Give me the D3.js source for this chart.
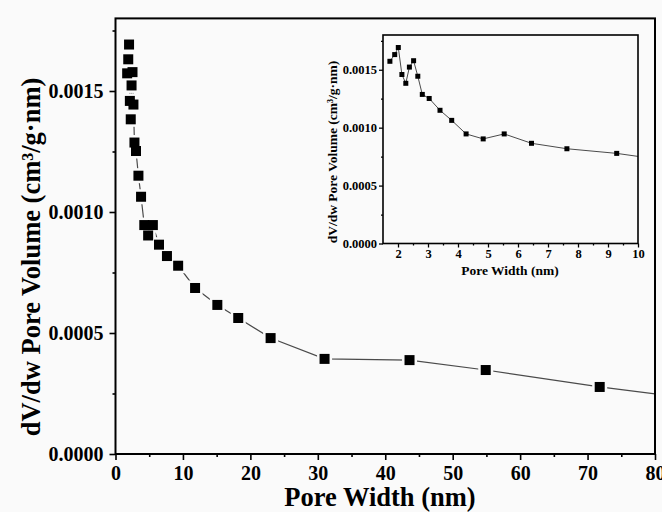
<!DOCTYPE html>
<html>
<head>
<meta charset="utf-8">
<script src="https://cdn.jsdelivr.net/npm/d3@7"></script>
<style>
  body { margin: 0; background: #fafafa; }
  text { font-family: "Liberation Serif", "Times New Roman", serif; font-weight: bold; fill: #000; }
</style>
</head>
<body>
<script>
var width = 662, height = 512;

// pore size distribution
var poreWidth = [1.73, 1.89, 2.01, 2.13, 2.26, 2.38, 2.52, 2.66, 2.81, 3.04, 3.40, 3.79,
                 4.27, 4.84, 5.54, 6.45, 7.63, 9.29, 11.8, 15.1, 18.2, 23.0, 31.0, 43.6,
                 54.9, 71.8, 90];
var poreVolume = [0.001573, 0.001631, 0.001692, 0.001459, 0.001383, 0.001523, 0.001578,
                  0.001444, 0.001287, 0.001252, 0.00115, 0.001063, 0.000946, 0.000903,
                  0.000946, 0.000865, 0.000818, 0.000778, 0.000686, 0.000616, 0.000562,
                  0.000479, 0.000393, 0.000388, 0.000347, 0.000277, 0.000214];

var mainXTicks = [0, 10, 20, 30, 40, 50, 60, 70, 80];
var mainXMinor = [5, 15, 25, 35, 45, 55, 65, 75];
var yTicks = [0, 0.0005, 0.0010, 0.0015];
var yMinor = [0.00025, 0.00075, 0.00125, 0.00175];
var insetXTicks = [2, 3, 4, 5, 6, 7, 8, 9, 10];
var insetXMinor = [2.5, 3.5, 4.5, 5.5, 6.5, 7.5, 8.5, 9.5];

var data = poreWidth.map(function(w, i) { return {x: w, y: poreVolume[i]}; });

var svg = d3.select("body").append("svg")
    .attr("width", width)
    .attr("height", height);

svg.append("rect").attr("width", width).attr("height", height).attr("fill", "#fafafa");

// draw one panel (main chart or inset)
function panel(opt) {
    var x = d3.scaleLinear().domain(opt.xDomain).range([opt.left, opt.right]);
    var y = d3.scaleLinear().domain([0, 0.0018]).range([opt.bottom, opt.top]);
    var g = svg.append("g");
    var clipId = "clip-" + opt.name;

    g.append("clipPath").attr("id", clipId)
      .append("rect")
        .attr("x", opt.left).attr("y", opt.top)
        .attr("width", opt.right - opt.left).attr("height", opt.bottom - opt.top);

    var plot = g.append("g").attr("clip-path", "url(#" + clipId + ")");

    var line = d3.line().x(function(d) { return x(d.x); }).y(function(d) { return y(d.y); });
    plot.append("path")
        .datum(data)
        .attr("fill", "none")
        .attr("stroke", "#4a4a4a")
        .attr("stroke-width", opt.lineWidth)
        .attr("d", line);

    // halo to open a small gap in the line around each marker
    if (opt.gap) {
        plot.selectAll("rect.halo")
            .data(data)
            .enter().append("rect")
            .attr("class", "halo")
            .attr("x", function(d) { return x(d.x) - opt.marker / 2; })
            .attr("y", function(d) { return y(d.y) - opt.marker / 2; })
            .attr("width", opt.marker).attr("height", opt.marker)
            .attr("fill", "#fafafa")
            .attr("stroke", "#fafafa")
            .attr("stroke-width", opt.gap);
    }

    plot.selectAll("rect.pt")
        .data(data)
        .enter().append("rect")
        .attr("class", "pt")
        .attr("x", function(d) { return x(d.x) - opt.marker / 2; })
        .attr("y", function(d) { return y(d.y) - opt.marker / 2; })
        .attr("width", opt.marker).attr("height", opt.marker)
        .attr("fill", "#000");

    // frame
    g.append("rect")
        .attr("x", opt.left).attr("y", opt.top)
        .attr("width", opt.right - opt.left).attr("height", opt.bottom - opt.top)
        .attr("fill", "none")
        .attr("stroke", "#000")
        .attr("stroke-width", opt.frame);

    // axes
    g.append("g")
        .attr("transform", "translate(0," + opt.bottom + ")")
        .call(d3.axisBottom(x).tickValues(opt.xTicks).tickSize(opt.tick).tickPadding(opt.pad).tickFormat(d3.format("d")));
    g.append("g")
        .attr("transform", "translate(0," + opt.bottom + ")")
        .call(d3.axisBottom(x).tickValues(opt.xMinor).tickSize(opt.tick / 2).tickFormat(""));
    g.append("g")
        .attr("transform", "translate(" + opt.left + ",0)")
        .call(d3.axisLeft(y).tickValues(yTicks).tickSize(opt.tick).tickPadding(opt.pad).tickFormat(d3.format(".4f")));
    g.append("g")
        .attr("transform", "translate(" + opt.left + ",0)")
        .call(d3.axisLeft(y).tickValues(yMinor).tickSize(opt.tick / 2).tickFormat(""));

    g.selectAll(".domain").remove();
    g.selectAll(".tick line").attr("stroke", "#000").attr("stroke-width", opt.frame * 0.8);
    g.selectAll(".tick text")
        .style("font-family", "'Liberation Serif', 'Times New Roman', serif")
        .style("font-weight", "bold")
        .style("font-size", opt.tickFont + "px")
        .attr("fill", "#000");

    g.append("text")
        .attr("x", opt.xLabelX).attr("y", opt.xLabelY)
        .attr("text-anchor", "middle")
        .style("font-size", opt.labelFont + "px")
        .text("Pore Width (nm)");

    g.append("text")
        .attr("transform", "translate(" + opt.yLabelX + "," + opt.yLabelY + ") rotate(-90)")
        .attr("text-anchor", "middle")
        .style("font-size", opt.labelFont + "px")
        .text("dV/dw Pore Volume (cm\u00b3/g\u00b7nm)");
}

// main chart
panel({
    name: "main", xDomain: [0, 80],
    left: 115.5, right: 655, top: 18.4, bottom: 454,
    xTicks: mainXTicks, xMinor: mainXMinor,
    marker: 10, gap: 5, lineWidth: 1.2, frame: 2,
    tick: 6, pad: 6, tickFont: 20, labelFont: 26.5,
    xLabelX: 380, xLabelY: 506, yLabelX: 40, yLabelY: 257
});

// inset
panel({
    name: "inset", xDomain: [1.5, 10],
    left: 383, right: 638, top: 35, bottom: 243.5,
    xTicks: insetXTicks, xMinor: insetXMinor,
    marker: 5, gap: 0, lineWidth: 1, frame: 1.6,
    tick: 4, pad: 2, tickFont: 12.5, labelFont: 13.5,
    xLabelX: 510, xLabelY: 275, yLabelX: 337, yLabelY: 152
});
</script>
</body>
</html>
